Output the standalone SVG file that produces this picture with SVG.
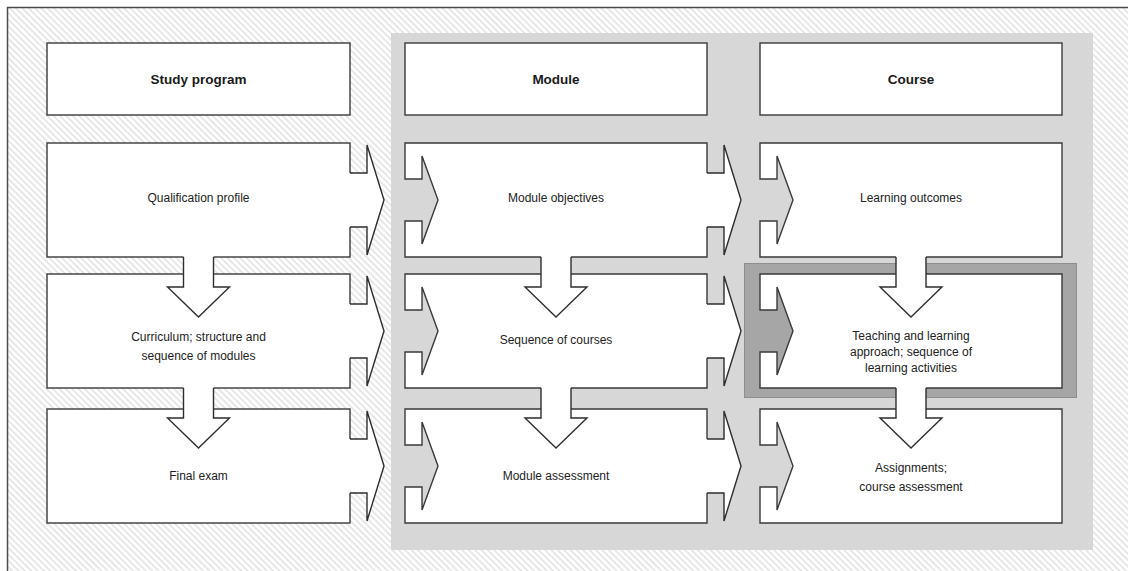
<svg xmlns="http://www.w3.org/2000/svg" width="1128" height="571" viewBox="0 0 1128 571">
  <style>
    .frame { fill: url(#hatch); stroke: #4a4a4a; stroke-width: 1.5; }
    .panel { fill: #d7d7d7; }
    .focus { fill: #a6a6a6; stroke: #8e8e8e; stroke-width: 1; }
    .box { fill: #ffffff; stroke: #3a3a3a; stroke-width: 1.4; }
    .cover { fill: #ffffff; stroke: none; }
    .edge { fill: none; stroke: #2e2e2e; stroke-width: 1.4; stroke-linejoin: miter; }
    .hdr { font-family: "Liberation Sans", Arial, sans-serif; font-size: 13.5px; font-weight: bold; fill: #1a1a1a; text-anchor: middle; }
    .lbl { font-family: "Liberation Sans", Arial, sans-serif; font-size: 12px; fill: #222222; text-anchor: middle; }
  </style>
  <defs>
    <pattern id="hatch" patternUnits="userSpaceOnUse" width="4.5" height="4.5" patternTransform="rotate(-45)">
      <rect width="4.5" height="4.5" fill="#ffffff"/>
      <line x1="1" y1="0" x2="1" y2="4.5" stroke="#e3e3e3" stroke-width="1.6"/>
    </pattern>
    <!-- box with an arrow-shaped inlet on its left side (302 x 114) -->
    <path id="box-inlet" d="M0,0 H302 V114 H0 V78 H17 V101 L33,57 L17,13 V36 H0 Z"/>
    <!-- chevron leaving a box to the right, anchored at the box's top-right corner -->
    <g id="arrow-right">
      <path class="cover" d="M-1.5,30 H17 V2 L34,57 L17,112 V84 H-1.5 Z"/>
      <path class="edge" d="M0,30 H17 V2 L34,57 L17,112 V84 H0"/>
    </g>
    <!-- arrow leaving a box downward, anchored at the bottom-centre of the box -->
    <g id="arrow-down">
      <path class="cover" d="M-15,-1.5 V30 H-31 L0,60 L31,30 H15 V-1.5 Z"/>
      <path class="edge" d="M-15,0 V30 H-31 L0,60 L31,30 H15 V0"/>
    </g>
  </defs>

  <!-- hatched sheet with frame -->
  <rect class="frame" x="7.5" y="7.5" width="1200" height="600"/>
  <!-- shaded area behind the module and course columns -->
  <rect class="panel" x="391" y="33" width="702" height="517"/>
  <!-- emphasis behind the teaching and learning cell -->
  <rect class="focus" x="744.5" y="263.5" width="332" height="134"/>

  <!-- column headers -->
  <g id="hdr-study-program">
    <rect class="box" x="47" y="43" width="303" height="72"/>
    <text class="hdr" x="198.5" y="84">Study program</text>
  </g>
  <g id="hdr-module">
    <rect class="box" x="405" y="43" width="302" height="72"/>
    <text class="hdr" x="556" y="84">Module</text>
  </g>
  <g id="hdr-course">
    <rect class="box" x="760" y="43" width="302" height="72"/>
    <text class="hdr" x="911" y="84">Course</text>
  </g>

  <!-- study program column -->
  <g id="qualification-profile">
    <rect class="box" x="47" y="143" width="303" height="114"/>
    <text class="lbl" x="198.5" y="202">Qualification profile</text>
  </g>
  <g id="curriculum">
    <rect class="box" x="47" y="274" width="303" height="114"/>
    <text class="lbl" x="198.5" y="341">Curriculum; structure and</text>
    <text class="lbl" x="198.5" y="360">sequence of modules</text>
  </g>
  <g id="final-exam">
    <rect class="box" x="47" y="409" width="303" height="114"/>
    <text class="lbl" x="198.5" y="480">Final exam</text>
  </g>

  <!-- module column -->
  <g id="module-objectives">
    <use class="box" href="#box-inlet" x="405" y="143"/>
    <text class="lbl" x="556" y="202">Module objectives</text>
  </g>
  <g id="sequence-of-courses">
    <use class="box" href="#box-inlet" x="405" y="274"/>
    <text class="lbl" x="556" y="344">Sequence of courses</text>
  </g>
  <g id="module-assessment">
    <use class="box" href="#box-inlet" x="405" y="409"/>
    <text class="lbl" x="556" y="480">Module assessment</text>
  </g>

  <!-- course column -->
  <g id="learning-outcomes">
    <use class="box" href="#box-inlet" x="760" y="143"/>
    <text class="lbl" x="911" y="202">Learning outcomes</text>
  </g>
  <g id="teaching-learning-approach">
    <use class="box" href="#box-inlet" x="760" y="274"/>
    <text class="lbl" x="911" y="339.5">Teaching and learning</text>
    <text class="lbl" x="911" y="355.5">approach; sequence of</text>
    <text class="lbl" x="911" y="371.5">learning activities</text>
  </g>
  <g id="course-assessment">
    <use class="box" href="#box-inlet" x="760" y="409"/>
    <text class="lbl" x="911" y="472">Assignments;</text>
    <text class="lbl" x="911" y="491">course assessment</text>
  </g>

  <!-- connectors -->
  <g id="connectors">
    <use href="#arrow-right" x="350" y="143"/>
    <use href="#arrow-right" x="350" y="274"/>
    <use href="#arrow-right" x="350" y="409"/>
    <use href="#arrow-right" x="707" y="143"/>
    <use href="#arrow-right" x="707" y="274"/>
    <use href="#arrow-right" x="707" y="409"/>
    <use href="#arrow-down" x="198.5" y="257"/>
    <use href="#arrow-down" x="198.5" y="388"/>
    <use href="#arrow-down" x="556" y="257"/>
    <use href="#arrow-down" x="556" y="388"/>
    <use href="#arrow-down" x="911" y="257"/>
    <use href="#arrow-down" x="911" y="388"/>
  </g>
</svg>
